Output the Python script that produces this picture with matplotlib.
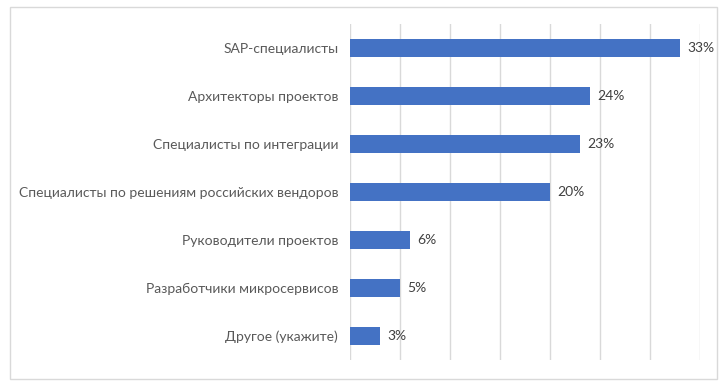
import matplotlib
matplotlib.use('Agg')
import matplotlib.pyplot as plt
from matplotlib.patches import Rectangle

# --- data ---
categories = [
    "SAP-специалисты",
    "Архитекторы проектов",
    "Специалисты по интеграции",
    "Специалисты по решениям российских вендоров",
    "Руководители проектов",
    "Разработчики микросервисов",
    "Другое (укажите)",
]
values = [33, 24, 23, 20, 6, 5, 3]
value_labels = ["33%", "24%", "23%", "20%", "6%", "5%", "3%"]

BAR_COLOR = '#4472C4'
TEXT_COLOR = '#595959'
GRID_COLOR = '#D9D9D9'

plt.rcParams['font.family'] = ['Lato', 'DejaVu Sans']

fig = plt.figure(figsize=(7.28, 3.86), dpi=100)
ax = fig.add_axes([350 / 728, 26 / 386, 350 / 728, 336 / 386])

y = list(range(len(categories)))
ax.barh(y, values, height=0.355, color=BAR_COLOR, zorder=3)
ax.set_ylim(len(categories) - 0.5, -0.5)
ax.set_xlim(0, 35)
ax.set_xticks(range(0, 36, 5))
ax.set_xticklabels([])
ax.grid(axis='x', color=GRID_COLOR, linewidth=1, zorder=0)
ax.tick_params(axis='both', length=0)
ax.tick_params(axis='y', pad=8.5)
ax.set_yticks(y)
ax.set_yticklabels(categories, fontsize=10, color=TEXT_COLOR)
for s in ax.spines.values():
    s.set_visible(False)

# value labels next to each bar
for yi, v, lab in zip(y, values, value_labels):
    ax.annotate(lab, (v, yi), xytext=(5, 0), textcoords='offset points',
                va='center', ha='left', fontsize=10, color='#404040')

# light border around the whole chart area
fig.patches.append(Rectangle((10 / 728, 7 / 386), 707 / 728, 372 / 386,
                             transform=fig.transFigure, fill=False,
                             edgecolor=GRID_COLOR, linewidth=1))

plt.savefig('out.png', dpi=100)
plt.close()
